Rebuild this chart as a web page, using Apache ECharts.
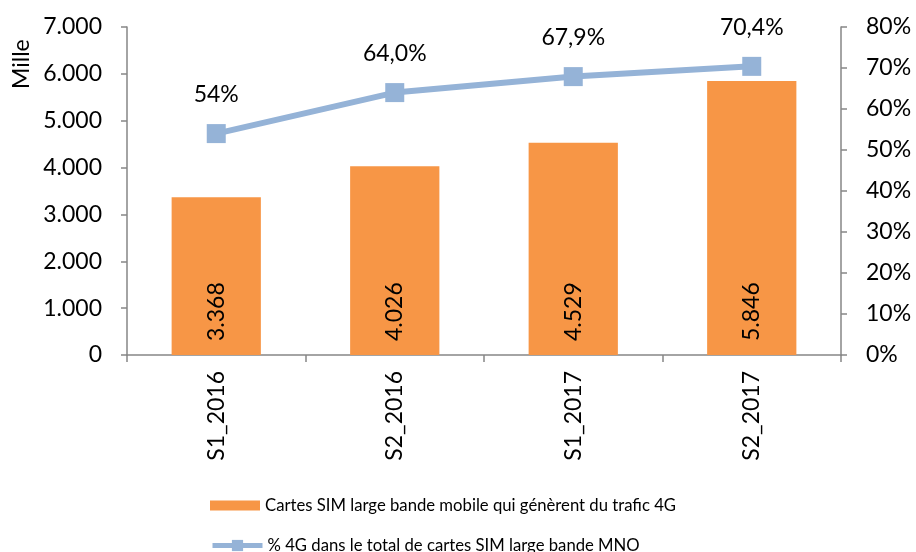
<!DOCTYPE html>
<html>
<head>
<meta charset="utf-8">
<script src="https://cdn.jsdelivr.net/npm/echarts@6/dist/echarts.min.js"></script>
<style>
html, body { margin: 0; padding: 0; background: #fff; }
#chart-wrap { width: 916px; height: 552px; }
</style>
</head>
<body>
<div id="chart-wrap"></div>
<script>
//数据
var categories = ['S1_2016', 'S2_2016', 'S1_2017', 'S2_2017'];
var simCards = [3368, 4026, 4529, 5846];
var share4g = [54.0, 64.0, 67.9, 70.4];
var shareLabels = ['54%', '64,0%', '67,9%', '70,4%'];
var barName = 'Cartes SIM large bande mobile qui génèrent du trafic 4G';
var lineName = '% 4G dans le total de cartes SIM large bande MNO';

var FONT = 'Lato, "Open Sans", sans-serif';
var axisGray = '#868686';
var lineBlue = '#95B3D7';

function milliers(v) {
    return String(v).replace(/\B(?=(\d{3})+(?!\d))/g, '.');
}

var chart = echarts.init(document.getElementById('chart-wrap'));

//图例：两行，各一个
var legendCommon = {
    left: 205,
    itemWidth: 50,
    itemHeight: 10,
    itemGap: 8,
    textStyle: { fontSize: 16.7, color: '#000', fontFamily: FONT }
};

var option = {
    animation: false,
    textStyle: { fontFamily: FONT },
    grid: { left: 127, right: 75, top: 27, bottom: 197, outerBoundsMode: 'none' },
    legend: [
        Object.assign({}, legendCommon, { top: 492, data: [{ name: barName, icon: 'rect' }] }),
        Object.assign({}, legendCommon, {
            top: 532,
            itemHeight: 14,
            data: [{ name: lineName, lineStyle: { width: 5, color: lineBlue } }]
        })
    ],
    graphic: [
        {
            type: 'text',
            x: 10,
            y: 89,
            rotation: Math.PI / 2,
            style: { text: 'Mille', fontSize: 23, fill: '#000', fontFamily: FONT }
        }
    ],
    xAxis: {
        type: 'category',
        data: categories,
        axisLine: { lineStyle: { color: axisGray, width: 1.5 } },
        axisTick: { show: true, length: 7, lineStyle: { color: axisGray, width: 1.5 } },
        axisLabel: { rotate: 90, fontSize: 23, color: '#000', margin: 16, fontFamily: FONT }
    },
    yAxis: [
        {
            type: 'value',
            min: 0, max: 7000, interval: 1000,
            axisLine: { show: true, lineStyle: { color: axisGray, width: 1.5 } },
            axisTick: { show: true, length: 6, lineStyle: { color: axisGray, width: 1.5 } },
            splitLine: { show: false },
            axisLabel: { fontSize: 23, color: '#000', margin: 25, fontFamily: FONT, formatter: milliers }
        },
        {
            type: 'value',
            min: 0, max: 80, interval: 10,
            position: 'right',
            axisLine: { show: true, lineStyle: { color: axisGray, width: 1.5 } },
            axisTick: { show: true, length: 6, lineStyle: { color: axisGray, width: 1.5 } },
            splitLine: { show: false },
            axisLabel: { fontSize: 23, color: '#000', margin: 25, fontFamily: FONT, formatter: '{value}%' }
        }
    ],
    series: [
        {
            name: barName,
            type: 'bar',
            data: simCards,
            barWidth: '50%',
            itemStyle: { color: '#F79646' },
            label: {
                show: true,
                position: 'insideBottom',
                rotate: 90,
                align: 'left',
                verticalAlign: 'middle',
                distance: 14,
                fontSize: 23,
                color: '#000',
                fontFamily: FONT,
                formatter: function (p) { return milliers(p.value); }
            }
        },
        {
            name: lineName,
            type: 'line',
            yAxisIndex: 1,
            data: share4g,
            symbol: 'rect',
            symbolSize: 19,
            lineStyle: { color: lineBlue, width: 6 },
            itemStyle: { color: lineBlue },
            label: {
                show: true,
                position: 'top',
                distance: 18,
                fontSize: 23,
                color: '#000',
                fontFamily: FONT,
                formatter: function (p) { return shareLabels[p.dataIndex]; }
            }
        }
    ]
};

chart.setOption(option);
</script>
</body>
</html>
